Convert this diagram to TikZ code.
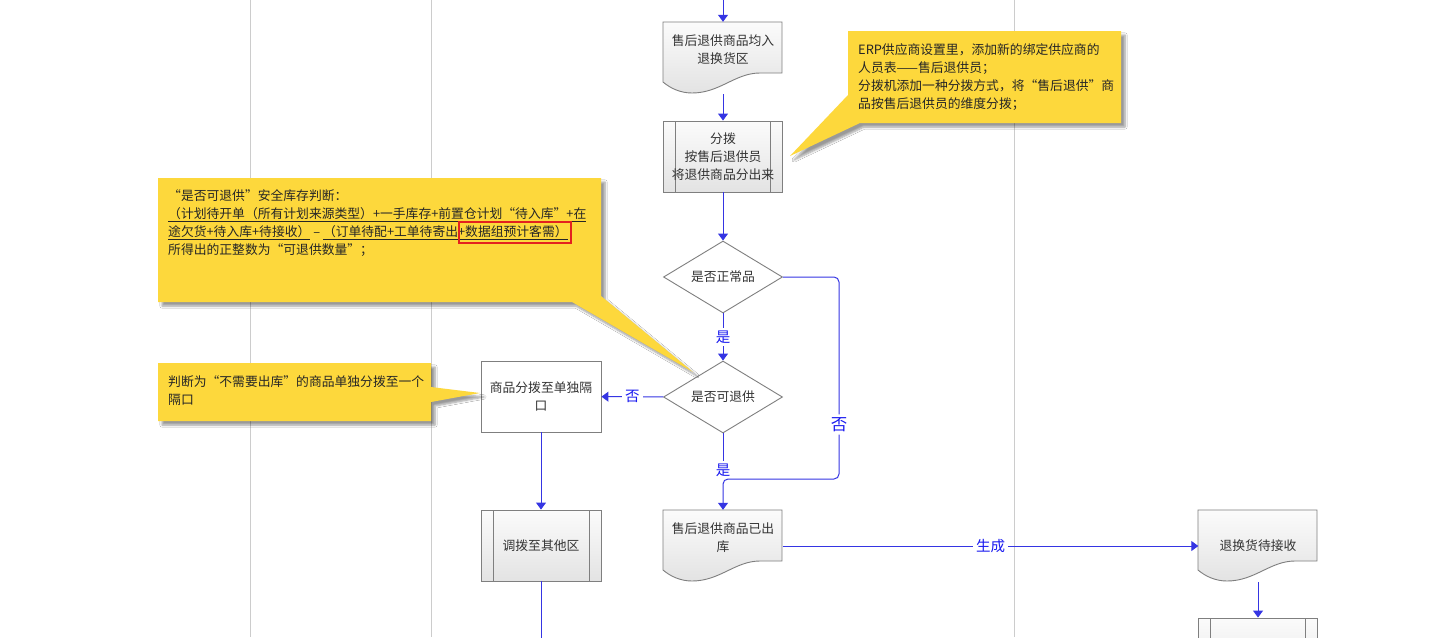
\documentclass[tikz,border=0pt]{standalone}
\usepackage{fontspec}
\setmainfont{Noto Sans CJK SC}
\usetikzlibrary{arrows.meta,shapes.geometric,shadows.blur}

\definecolor{flowblue}{HTML}{3535E3}
\definecolor{lblblue}{HTML}{1A1AF0}
\definecolor{notey}{HTML}{FDD83C}
\definecolor{boxgray}{HTML}{7F7F7F}
\definecolor{txtgray}{HTML}{333333}
\definecolor{lanegray}{HTML}{CCCCCC}
\definecolor{markred}{HTML}{E3211F}

% outline of a document box: left x, top y
\newcommand\docoutline[2]{%
  \draw[docbox] (#1,#2) -- (#1+119,#2) -- (#1+119,#2+51) -- (#1+97,#2+51)
    .. controls (#1+72,#2+51) and (#1+57,#2+71) .. (#1+29,#2+71)
    .. controls (#1+17,#2+71) and (#1+7,#2+66) .. (#1,#2+60) -- cycle;}

\begin{document}
\begin{tikzpicture}[
  x=1pt,y=-1pt,
  >={Triangle[width=10pt,length=7pt]},
  font=\fontsize{12.8}{18}\selectfont, text=txtgray,
  box/.style={draw=boxgray,line width=.9pt,minimum width=119pt,minimum height=71pt,inner sep=2pt,align=center},
  plainbox/.style={box,fill=white},
  procbox/.style={box,top color=gray!3,bottom color=gray!22,
    path picture={\draw[boxgray,line width=.9pt]
      ([xshift=12pt]path picture bounding box.north west) -- ([xshift=12pt]path picture bounding box.south west)
      ([xshift=-12pt]path picture bounding box.north east) -- ([xshift=-12pt]path picture bounding box.south east);}},
  docnode/.style={minimum width=119pt,minimum height=72pt,inner sep=2pt,align=center},
  docbox/.style={draw=boxgray,line width=.9pt,top color=gray!3,bottom color=gray!22},
  decision/.style={diamond,draw=boxgray,line width=.9pt,fill=white,minimum width=119pt,minimum height=72pt,inner sep=0pt,shape aspect=1.65},
  flow/.style={->,draw=flowblue,line width=1pt},
  flowline/.style={draw=flowblue,line width=1pt},
  lbl/.style={fill=white,text=lblblue,inner sep=3pt,font=\fontsize{14.5}{14.5}\selectfont},
  note/.style={fill=notey,blur shadow={shadow xshift=4pt,shadow yshift=-4pt,shadow blur steps=6,shadow opacity=40}},
  notetext/.style={anchor=west,inner sep=0pt,align=left,text=black!85}
]
  \useasboundingbox (0,0) rectangle (1431,637);
  \clip (0,0) rectangle (1431,637);
  \fill[white] (0,0) rectangle (1431,637);

  % swim lanes
  \foreach \lx in {250,431,1014}
    \draw[lanegray,line width=1pt] (\lx,0) -- (\lx,637);

  % main column
  \docoutline{663}{22}
  \node[docnode] (b1) at (723,58) {售后退供商品均入\\退换货区\\\mbox{}};
  \node[procbox] (b2) at (723,156.5) {分拨\\按售后退供员\\将退供商品分出来};
  \node[decision] (d1) at (723,277) {是否正常品};
  \node[decision] (d2) at (723,397) {是否可退供};
  \docoutline{663}{510}
  \node[docnode] (b3) at (723,546) {售后退供商品已出\\库\\\mbox{}};

  % side column
  \node[plainbox,minimum width=120pt] (b4) at (541,396.5) {商品分拨至单独隔\\口};
  \node[procbox,minimum width=120pt] (b5) at (541,545.5) {调拨至其他区};

  % right column
  \docoutline{1198}{510}
  \node[docnode] (b6) at (1258,546) {退换货待接收};
  \node[procbox] (b7) at (1258,653.5) {};

  \coordinate (top) at (723,0);
  \coordinate (c1) at (839,277);
  \coordinate (c2) at (839,479);
  \coordinate (j) at (723,479);
  \coordinate (b5out) at (541,640);

  % connectors
  \draw[flow] (top) -- (b1.north);
  \draw[flow] (b1.south) -- (b2.north);
  \draw[flow] (b2) -- (d1);
  \draw[flow] (d1) -- node[lbl] {是} (d2);
  \draw[flow] (d2) -- node[lbl] {否} (b4);
  \draw[flow] (b4) -- (b5);
  \draw[flowline] (b5) -- (b5out);
  \draw[flowline] (d2.south) -- node[lbl,pos=.8] {是} (j);
  \draw[flow,rounded corners=5pt] (d1.east) -- (c1)
    -- node[lbl,pos=.73,font=\fontsize{16.5}{16.5}\selectfont] {否} (c2) -- (j) -- (b3.north);
  \draw[flow] (b3.east) -- node[lbl] {生成} (b6.west);
  \draw[flow] (b6.south) -- (b7.north);

  % notes
  \fill[note] (848,31) -- (1121,31) -- (1121,123) -- (860,123) -- (790,156) -- (848,95) -- cycle;
  \node[notetext] (n1) at (858,77)
    {ERP供应商设置里，添加新的绑定供应商的\\人员表——售后退供员；\\分拨机添加一种分拨方式，将“售后退供”商\\品按售后退供员的维度分拨；};

  \fill[note] (158,178) -- (601,178) -- (601,296) -- (693,372) -- (572,302) -- (158,302) -- cycle;
  \node[notetext] (n2) at (168,223.5)
    {“是否可退供”安全库存判断：\\
     \underline{（计划待开单（所有计划来源类型）+一手库存+前置仓计划“待入库”+在}\\
     \underline{途欠货+待入库+待接收）} – \underline{（订单待配+工单待寄出+数据组预计客需）}\\
     所得出的正整数为“可退供数量”；};
  \draw[markred,line width=1.5pt] (459,222) rectangle (571,243);

  \fill[note] (158,363) -- (431,363) -- (431,387) -- (480,393) -- (431,402) -- (431,421) -- (158,421) -- cycle;
  \node[notetext] (n3) at (168,391)
    {判断为“不需要出库”的商品单独分拨至一个\\隔口};
\end{tikzpicture}
\end{document}
